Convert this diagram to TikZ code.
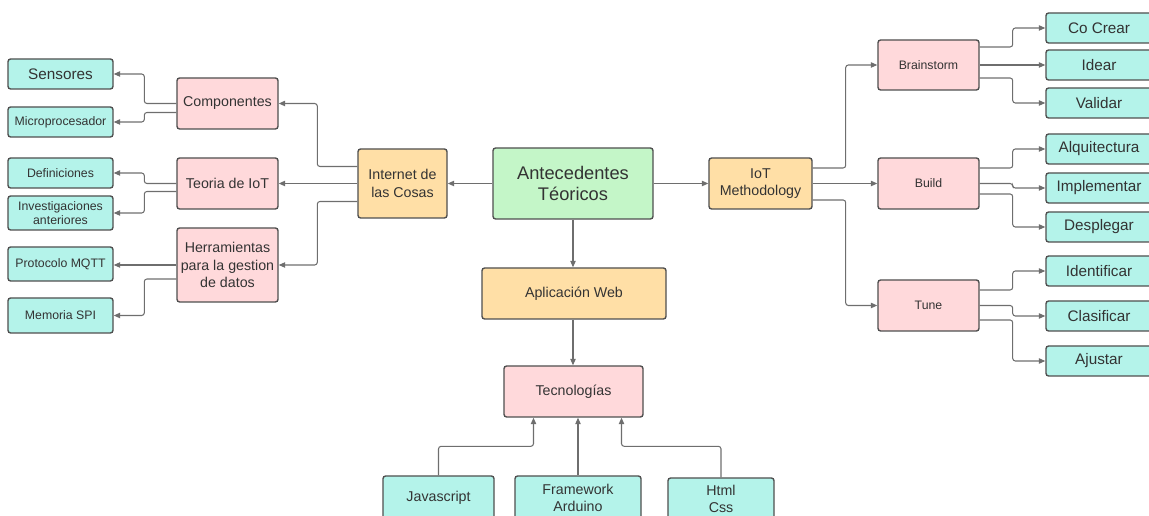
\documentclass[tikz,border=0pt]{standalone}
\usepackage{fontspec}
\setmainfont{Liberation Sans}
\usepackage{tikz}
\usetikzlibrary{positioning,arrows.meta,calc}

\definecolor{leafc}{HTML}{B4F3EA}
\definecolor{subc}{HTML}{FFD9DB}
\definecolor{midc}{HTML}{FFDFA6}
\definecolor{rootc}{HTML}{C4F6C8}
\definecolor{edgec}{HTML}{4F4F4F}
\definecolor{linec}{HTML}{6E6E6E}
\definecolor{txtc}{HTML}{333333}

\begin{document}
\begin{tikzpicture}[
    x=0.02cm, y=-0.02cm,
    box/.style={draw=edgec, line width=0.8pt, rounded corners=1.5pt,
                text=txtc, align=center, inner sep=1pt},
    leaf/.style={box, fill=leafc},
    sub/.style={box, fill=subc},
    mid/.style={box, fill=midc},
    root/.style={box, fill=rootc},
    sz/.style 2 args={minimum width=#1*0.02cm, minimum height=#2*0.02cm},
    fs/.style={font=\fontsize{7}{8.4}\selectfont},
    fm/.style={font=\fontsize{8.1}{9.8}\selectfont},
    fl/.style={font=\fontsize{8.7}{10.4}\selectfont},
    fx/.style={font=\fontsize{10.4}{12.4}\selectfont},
    con/.style={draw=linec, line width=0.6pt, rounded corners=1.5pt,
                -{Triangle[length=3.6pt,width=3pt]}},
  ]
  \useasboundingbox (0,0) rectangle (1149,516);

  % centre
  \node[root, fx, sz={160}{71}] (ante) at (573,183.5) {Antecedentes\\Téoricos};
  \node[mid, fm, sz={89}{69}] (inet) at (402.5,183.5) {Internet de\\las Cosas};
  \node[mid, fm, sz={103}{51}] (iotm) at (760.5,183.5) {IoT\\Methodology};
  \node[mid, fm, sz={184}{51}] (apli) at (574,293.5) {Aplicación Web};
  \node[sub, fm, sz={139}{51}] (tecn) at (573.5,391.5) {Tecnologías};

  % left branch
  \node[sub, fm, sz={101}{51}] (comp) at (227.5,103.5) {Componentes};
  \node[sub, fm, sz={101}{51}] (teor) at (227.5,183.5) {Teoria de IoT};
  \node[sub, fm, sz={101}{74}] (herr) at (227.5,265) {Herramientas\\para la gestion\\de datos};
  \node[leaf, fl, sz={105}{30}] (sens) at (60.5,74) {Sensores};
  \node[leaf, fs, sz={105}{30}] (micr) at (60.5,122) {Microprocesador};
  \node[leaf, fs, sz={105}{30}] (defi) at (60.5,173) {Definiciones};
  \node[leaf, fs, sz={105}{34}] (inve) at (60.5,213) {Investigaciones\\anteriores};
  \node[leaf, fs, sz={105}{34}] (mqtt) at (60.5,264) {Protocolo MQTT};
  \node[leaf, fs, sz={105}{35}] (mspi) at (60.5,315.5) {Memoria SPI};

  % right branch
  \node[sub, fs, sz={101}{50}] (brai) at (928.5,65) {Brainstorm};
  \node[sub, fs, sz={101}{51}] (buil) at (928.5,183.5) {Build};
  \node[sub, fs, sz={101}{51}] (tune) at (928.5,305.5) {Tune};
  \node[leaf, fl, sz={106}{30}] (cocr) at (1099,28) {Co Crear};
  \node[leaf, fl, sz={106}{30}] (idea) at (1099,65) {Idear};
  \node[leaf, fl, sz={106}{30}] (vali) at (1099,103) {Validar};
  \node[leaf, fl, sz={106}{30}] (alqu) at (1099,149) {Alquitectura};
  \node[leaf, fl, sz={106}{30}] (impl) at (1099,188) {Implementar};
  \node[leaf, fl, sz={106}{30}] (desp) at (1099,227) {Desplegar};
  \node[leaf, fl, sz={106}{30}] (iden) at (1099,271) {Identificar};
  \node[leaf, fl, sz={106}{30}] (clas) at (1099,316) {Clasificar};
  \node[leaf, fl, sz={106}{30}] (ajus) at (1099,361) {Ajustar};

  % bottom row (cut by the page edge)
  \node[leaf, fm, sz={111}{44}] (jscr) at (438.5,498) {Javascript};
  \node[leaf, fm, sz={126}{44}] (fram) at (578,498) {Framework\\Arduino};
  \node[leaf, fm, sz={106}{42}] (html) at (721,499) {Html\\Css};

  % connectors from the centre
  \draw[con] (ante.west) -- (inet.east);
  \draw[con] (ante.east) -- (iotm.west);
  \draw[con] (ante.south) -- (ante.south |- apli.north);
  \draw[con] (ante.south |- apli.south) -- (ante.south |- tecn.north);

  \draw[con] ($(inet.west)+(0,-17)$) -- ++(-40,0) |- (comp.east);
  \draw[con] (inet.west) -- (teor.east);
  \draw[con] ($(inet.west)+(0,18)$) -- ++(-40,0) |- (herr.east);

  \draw[con] (comp.west) -- ++(-32,0) |- (sens.east);
  \draw[con] ($(comp.west)+(0,9)$) -- ++(-32,0) |- (micr.east);
  \draw[con] (teor.west) -- ++(-32,0) |- (defi.east);
  \draw[con] ($(teor.west)+(0,8)$) -- ++(-32,0) |- (inve.east);
  \draw[con] (herr.west) -- (herr.west -| mqtt.east);
  \draw[con] ($(herr.west)+(0,14)$) -- ++(-32,0) |- (mspi.east);

  \draw[con] ($(iotm.east)+(0,-15.5)$) -- ++(33,0) |- (brai.west);
  \draw[con] (iotm.east) -- (buil.west);
  \draw[con] ($(iotm.east)+(0,16.5)$) -- ++(33,0) |- (tune.west);

  \draw[con] ($(brai.east)+(0,-18)$) -- ++(33,0) |- (cocr.west);
  \draw[con] (brai.east) -- (idea.west);
  \draw[con] ($(brai.east)+(0,13)$) -- ++(33,0) |- (vali.west);
  \draw[con] ($(buil.east)+(0,-15.5)$) -- ++(33,0) |- (alqu.west);
  \draw[con] (buil.east) -- ++(33,0) |- (impl.west);
  \draw[con] ($(buil.east)+(0,10.5)$) -- ++(33,0) |- (desp.west);
  \draw[con] ($(tune.east)+(0,-15.5)$) -- ++(33,0) |- (iden.west);
  \draw[con] (tune.east) -- ++(33,0) |- (clas.west);
  \draw[con] ($(tune.east)+(0,14.5)$) -- ++(33,0) |- (ajus.west);

  \draw[con] (jscr.north) -- ++(0,-29) -| ($(tecn.south)+(-40,0)$);
  \draw[con] (fram.north) -- (fram.north |- tecn.south);
  \draw[con] (html.north) -- ++(0,-31) -| ($(tecn.south)+(48,0)$);
\end{tikzpicture}
\end{document}
